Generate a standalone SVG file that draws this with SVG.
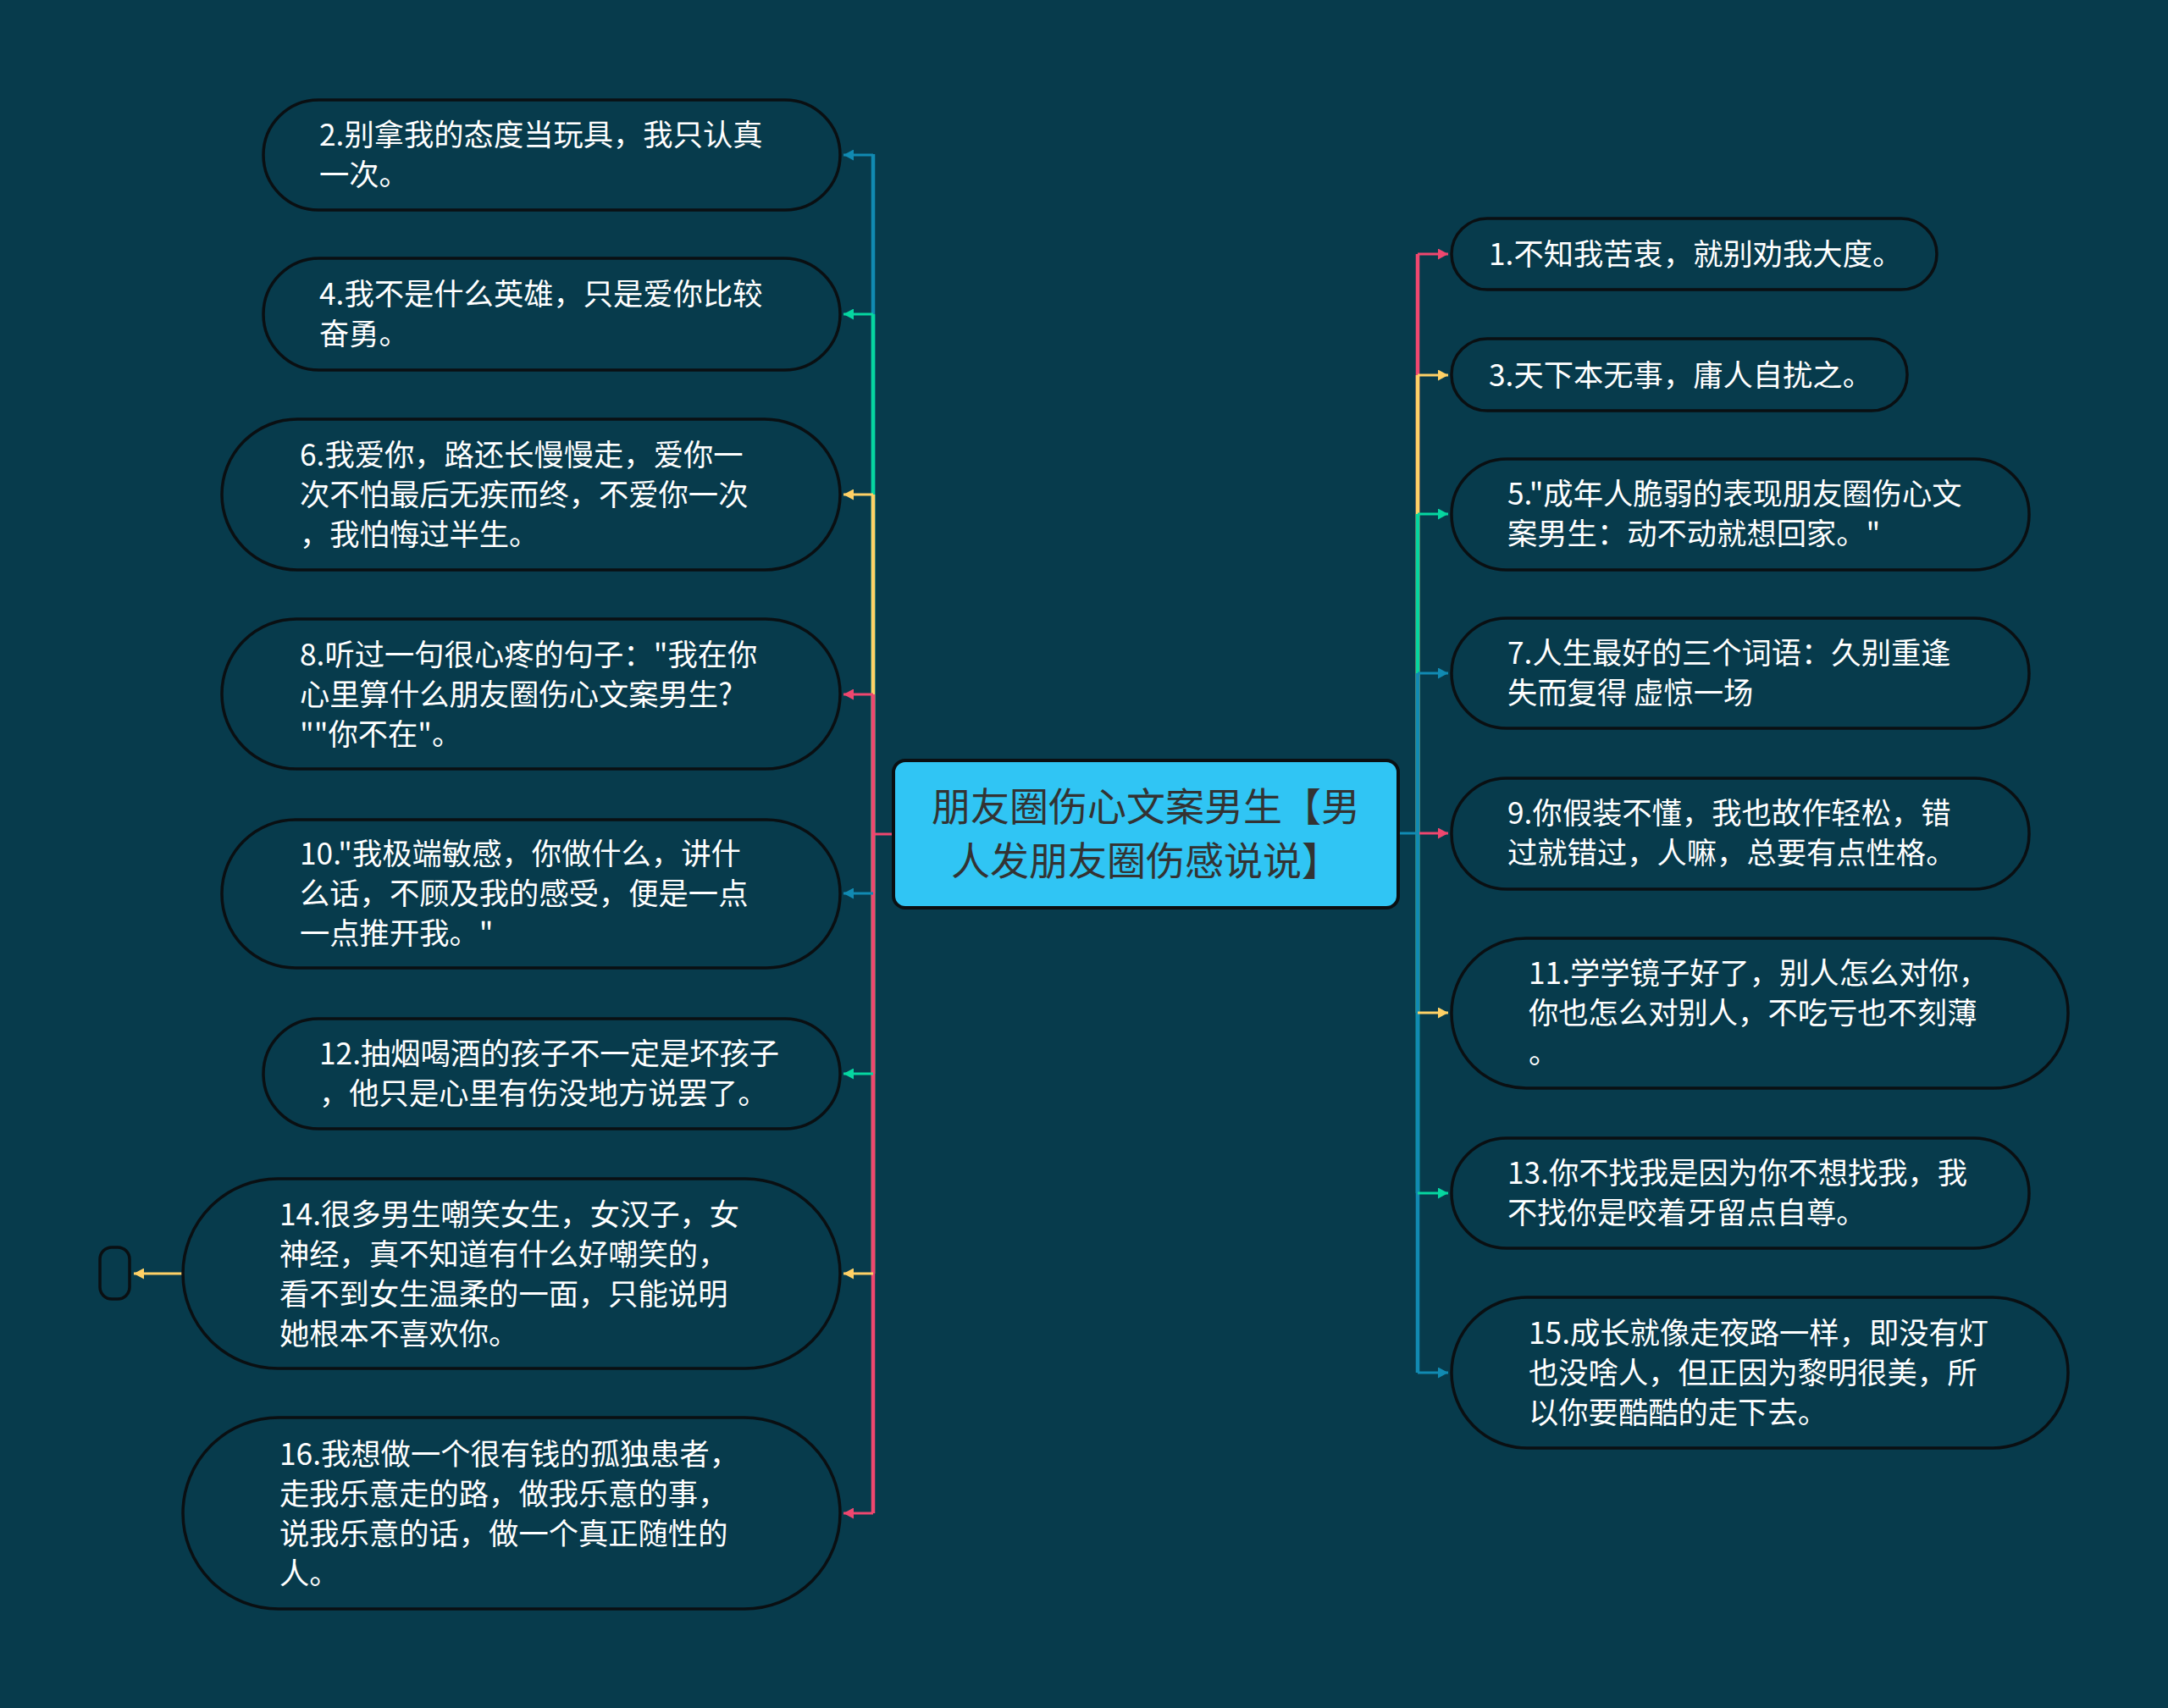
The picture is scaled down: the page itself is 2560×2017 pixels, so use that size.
<svg xmlns="http://www.w3.org/2000/svg" width="2560" height="2017" viewBox="0 0 2560 2017">
<style>
.bg{fill:#073B4C}
.node{fill:#073B4C;stroke:#0a0f12;stroke-width:3.5}
.center{fill:#30C5F4;stroke:#0a0f12;stroke-width:4}
.t{font-family:"Noto Sans CJK SC","Noto Sans",sans-serif;font-size:35.3px;fill:#ffffff}
.ct{font-family:"Noto Sans CJK SC","Noto Sans",sans-serif;font-size:46px;fill:#333333;text-anchor:middle}
.tr{fill:none;stroke-width:4.5}
.br{fill:none;stroke-width:3}
.pink{stroke:#EF476F}
.yellow{stroke:#FFD166}
.green{stroke:#06D6A0}
.blue{stroke:#118AB2}
</style>
<defs>
<marker id="aP" markerUnits="userSpaceOnUse" markerWidth="13" markerHeight="13" refX="12" refY="6.5" orient="auto"><path d="M0,0 L12,6.5 L0,13 z" fill="#EF476F"/></marker>
<marker id="aY" markerUnits="userSpaceOnUse" markerWidth="13" markerHeight="13" refX="12" refY="6.5" orient="auto"><path d="M0,0 L12,6.5 L0,13 z" fill="#FFD166"/></marker>
<marker id="aG" markerUnits="userSpaceOnUse" markerWidth="13" markerHeight="13" refX="12" refY="6.5" orient="auto"><path d="M0,0 L12,6.5 L0,13 z" fill="#06D6A0"/></marker>
<marker id="aB" markerUnits="userSpaceOnUse" markerWidth="13" markerHeight="13" refX="12" refY="6.5" orient="auto"><path d="M0,0 L12,6.5 L0,13 z" fill="#118AB2"/></marker>
</defs>
<rect class="bg" x="0" y="0" width="2560" height="2017"/>

<g id="connectors">
  <path class="tr blue" d="M1031,985 V182"/>
  <path class="tr green" d="M1031,985 V371"/>
  <path class="tr yellow" d="M1031,985 V584"/>
  <path class="tr pink" d="M1031,985 V820"/>
  <path class="tr blue" d="M1031,985 V1055"/>
  <path class="tr green" d="M1031,985 V1268"/>
  <path class="tr yellow" d="M1031,985 V1504"/>
  <path class="tr pink" d="M1031,985 V1787"/>
  <path class="br pink" d="M1055,985 H1031"/>
  <path class="br blue" d="M1031,183 H996" marker-end="url(#aB)"/>
  <path class="br green" d="M1031,371 H996" marker-end="url(#aG)"/>
  <path class="br yellow" d="M1031,584 H996" marker-end="url(#aY)"/>
  <path class="br pink" d="M1031,820 H996" marker-end="url(#aP)"/>
  <path class="br blue" d="M1031,1055 H996" marker-end="url(#aB)"/>
  <path class="br green" d="M1031,1268 H996" marker-end="url(#aG)"/>
  <path class="br yellow" d="M1031,1504 H996" marker-end="url(#aY)"/>
  <path class="br pink" d="M1031,1787 H996" marker-end="url(#aP)"/>
  <path class="tr pink" d="M1674,984 V300"/>
  <path class="tr yellow" d="M1674,984 V443"/>
  <path class="tr green" d="M1674,984 V607"/>
  <path class="tr blue" d="M1674,984 V795"/>
  <path class="tr yellow" d="M1674,984 V1196"/>
  <path class="tr green" d="M1674,984 V1409"/>
  <path class="tr blue" d="M1674,984 V1621"/>
  <path class="br blue" d="M1651,984 H1674"/>
  <path class="br pink" d="M1674,300 H1710" marker-end="url(#aP)"/>
  <path class="br yellow" d="M1674,443 H1710" marker-end="url(#aY)"/>
  <path class="br green" d="M1674,607 H1710" marker-end="url(#aG)"/>
  <path class="br blue" d="M1674,795 H1710" marker-end="url(#aB)"/>
  <path class="br pink" d="M1676,984 H1710" marker-end="url(#aP)"/>
  <path class="br yellow" d="M1674,1196 H1710" marker-end="url(#aY)"/>
  <path class="br green" d="M1674,1409 H1710" marker-end="url(#aG)"/>
  <path class="br blue" d="M1674,1621 H1710" marker-end="url(#aB)"/>
  <path class="br yellow" d="M216,1504 H158" marker-end="url(#aY)"/>
</g>

<g id="center">
  <rect class="center" x="1055" y="898" width="596" height="174" rx="14"/>
  <text class="ct"><tspan x="1353" y="969">朋友圈伤心文案男生【男</tspan><tspan x="1353" y="1033">人发朋友圈伤感说说】</tspan></text>
</g>

<g id="n2">
  <rect class="node" x="311" y="118" width="681" height="130" rx="65"/>
  <text class="t"><tspan x="377" y="172">2.别拿我的态度当玩具，我只认真</tspan><tspan x="377" y="219">一次。</tspan></text>
</g>
<g id="n4">
  <rect class="node" x="311" y="305" width="681" height="132" rx="66"/>
  <text class="t"><tspan x="377" y="360">4.我不是什么英雄，只是爱你比较</tspan><tspan x="377" y="407">奋勇。</tspan></text>
</g>
<g id="n6">
  <rect class="node" x="262" y="495" width="730" height="178" rx="89"/>
  <text class="t"><tspan x="354" y="550">6.我爱你，路还长慢慢走，爱你一</tspan><tspan x="354" y="597">次不怕最后无疾而终，不爱你一次</tspan><tspan x="354" y="644">，我怕悔过半生。</tspan></text>
</g>
<g id="n8">
  <rect class="node" x="262" y="731" width="730" height="177" rx="88"/>
  <text class="t"><tspan x="354" y="786">8.听过一句很心疼的句子："我在你</tspan><tspan x="354" y="833">心里算什么朋友圈伤心文案男生?</tspan><tspan x="354" y="880">""你不在"。</tspan></text>
</g>
<g id="n10">
  <rect class="node" x="262" y="968" width="730" height="175" rx="87"/>
  <text class="t"><tspan x="354" y="1021">10."我极端敏感，你做什么，讲什</tspan><tspan x="354" y="1068">么话，不顾及我的感受，便是一点</tspan><tspan x="354" y="1115">一点推开我。"</tspan></text>
</g>
<g id="n12">
  <rect class="node" x="311" y="1203" width="681" height="130" rx="65"/>
  <text class="t"><tspan x="377" y="1257">12.抽烟喝酒的孩子不一定是坏孩子</tspan><tspan x="377" y="1304">，他只是心里有伤没地方说罢了。</tspan></text>
</g>
<g id="n14">
  <rect class="node" x="216" y="1392" width="776" height="224" rx="112"/>
  <text class="t"><tspan x="330" y="1447">14.很多男生嘲笑女生，女汉子，女</tspan><tspan x="330" y="1494">神经，真不知道有什么好嘲笑的，</tspan><tspan x="330" y="1541">看不到女生温柔的一面，只能说明</tspan><tspan x="330" y="1588">她根本不喜欢你。</tspan></text>
</g>
<g id="n14a">
  <rect class="node" x="118" y="1473" width="35" height="61" rx="14" stroke-width="3"/>
</g>
<g id="n16">
  <rect class="node" x="216" y="1674" width="776" height="226" rx="113"/>
  <text class="t"><tspan x="330" y="1730">16.我想做一个很有钱的孤独患者，</tspan><tspan x="330" y="1777">走我乐意走的路，做我乐意的事，</tspan><tspan x="330" y="1824">说我乐意的话，做一个真正随性的</tspan><tspan x="330" y="1871">人。</tspan></text>
</g>

<g id="n1">
  <rect class="node" x="1714" y="258" width="573" height="84" rx="42"/>
  <text class="t"><tspan x="1758" y="313">1.不知我苦衷，就别劝我大度。</tspan></text>
</g>
<g id="n3">
  <rect class="node" x="1714" y="400" width="538" height="85" rx="42"/>
  <text class="t"><tspan x="1758" y="456">3.天下本无事，庸人自扰之。</tspan></text>
</g>
<g id="n5">
  <rect class="node" x="1714" y="542" width="682" height="131" rx="65"/>
  <text class="t"><tspan x="1780" y="596">5."成年人脆弱的表现朋友圈伤心文</tspan><tspan x="1780" y="643">案男生：动不动就想回家。"</tspan></text>
</g>
<g id="n7">
  <rect class="node" x="1714" y="730" width="682" height="130" rx="65"/>
  <text class="t"><tspan x="1780" y="784">7.人生最好的三个词语：久别重逢</tspan><tspan x="1780" y="831">失而复得 虚惊一场</tspan></text>
</g>
<g id="n9">
  <rect class="node" x="1714" y="919" width="682" height="131" rx="65"/>
  <text class="t"><tspan x="1780" y="973">9.你假装不懂，我也故作轻松，错</tspan><tspan x="1780" y="1020">过就错过，人嘛，总要有点性格。</tspan></text>
</g>
<g id="n11">
  <rect class="node" x="1714" y="1108" width="728" height="177" rx="88"/>
  <text class="t"><tspan x="1805" y="1162">11.学学镜子好了，别人怎么对你，</tspan><tspan x="1805" y="1209">你也怎么对别人，不吃亏也不刻薄</tspan><tspan x="1805" y="1256">。</tspan></text>
</g>
<g id="n13">
  <rect class="node" x="1714" y="1344" width="682" height="130" rx="65"/>
  <text class="t"><tspan x="1780" y="1398">13.你不找我是因为你不想找我，我</tspan><tspan x="1780" y="1445">不找你是咬着牙留点自尊。</tspan></text>
</g>
<g id="n15">
  <rect class="node" x="1714" y="1532" width="728" height="178" rx="89"/>
  <text class="t"><tspan x="1805" y="1587">15.成长就像走夜路一样，即没有灯</tspan><tspan x="1805" y="1634">也没啥人，但正因为黎明很美，所</tspan><tspan x="1805" y="1681">以你要酷酷的走下去。</tspan></text>
</g>
</svg>
